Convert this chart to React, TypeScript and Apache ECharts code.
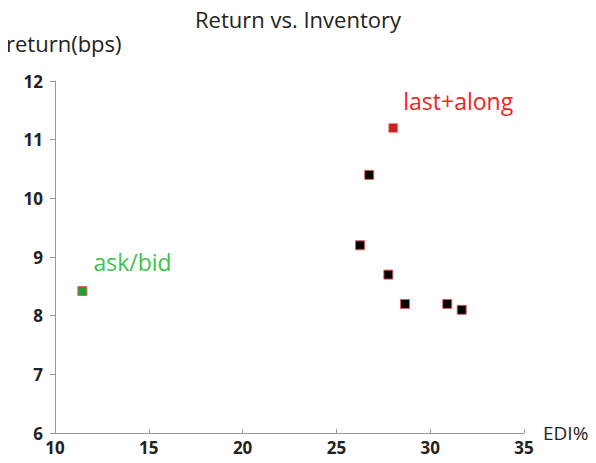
import React, { useEffect, useRef } from "react";
import * as echarts from "echarts";

const titleText = "Return vs. Inventory";
const xName = "EDI%";
const yName = "return(bps)";

const otherX = [26.75, 26.26, 27.77, 28.66, 30.91, 31.68];
const otherY = [10.4, 9.2, 8.7, 8.2, 8.2, 8.1];

const lastAlongX = [28.03];
const lastAlongY = [11.2];
const lastAlongLabel = "last+along";

const askBidX = [11.46];
const askBidY = [8.42];
const askBidLabel = "ask/bid";

const font = "'Open Sans', 'Liberation Sans', sans-serif";

export default function App() {
  const ref = useRef<HTMLDivElement>(null);
  useEffect(() => {
    if (!ref.current) return;
    const chart = echarts.init(ref.current, null, { renderer: "svg" });
    const zip = (xs: number[], ys: number[]) => xs.map((x, i) => [x, ys[i]]);
    chart.setOption({
      animation: false,
      backgroundColor: "#ffffff",
      textStyle: { fontFamily: font },
      title: {
        text: titleText,
        left: "center",
        top: 3,
        textStyle: { fontFamily: font, fontSize: 22, fontWeight: "normal", color: "#222" },
      },
      graphic: [
        {
          type: "text",
          left: 6,
          top: 32,
          style: { text: yName, fontFamily: font, fontSize: 22, fill: "#222" },
        },
      ],
      grid: { left: 55, right: 72, top: 81, bottom: 30, containLabel: false },
      xAxis: {
        type: "value",
        min: 10,
        max: 35,
        interval: 5,
        name: xName,
        nameLocation: "end",
        nameGap: 19,
        nameTextStyle: { fontFamily: font, fontSize: 19, color: "#222", align: "left", verticalAlign: "middle" },
        axisLine: { show: true, lineStyle: { color: "#999", width: 1 } },
        axisTick: { show: true, inside: true, length: 4, lineStyle: { color: "#999" } },
        axisLabel: { fontFamily: font, fontSize: 17, fontWeight: "bold", color: "#222", margin: 6 },
        splitLine: { show: false },
      },
      yAxis: {
        type: "value",
        min: 6,
        max: 12,
        interval: 1,
        axisLine: { show: true, lineStyle: { color: "#999", width: 1 } },
        axisTick: { show: true, inside: false, length: 5, lineStyle: { color: "#999" } },
        axisLabel: { fontFamily: font, fontSize: 17, fontWeight: "bold", color: "#222", margin: 12 },
        splitLine: { show: false },
      },
      series: [
        {
          type: "scatter",
          name: "other",
          data: zip(otherX, otherY),
          symbol: "rect",
          symbolSize: 9,
          itemStyle: { color: "#000", borderColor: "#e06060", borderWidth: 1, opacity: 1 },
        },
        {
          type: "scatter",
          name: "last+along",
          data: zip(lastAlongX, lastAlongY),
          symbol: "rect",
          symbolSize: 9,
          itemStyle: { color: "#c8201c", borderColor: "#f09090", borderWidth: 1, opacity: 1 },
          label: {
            show: true,
            formatter: lastAlongLabel,
            position: "right",
            distance: 5,
            offset: [0, -27],
            fontFamily: font,
            fontSize: 23,
            color: "#f0261c",
          },
        },
        {
          type: "scatter",
          name: "ask/bid",
          data: zip(askBidX, askBidY),
          symbol: "rect",
          symbolSize: 9,
          itemStyle: { color: "#1f9e32", borderColor: "#e06060", borderWidth: 1, opacity: 1 },
          label: {
            show: true,
            formatter: askBidLabel,
            position: "right",
            distance: 6,
            offset: [0, -29],
            fontFamily: font,
            fontSize: 23,
            color: "#3cc44a",
          },
        },
      ],
    });
    return () => chart.dispose();
  }, []);
  return <div ref={ref} style={{ width: 596, height: 463, margin: -8 }} />;
}
